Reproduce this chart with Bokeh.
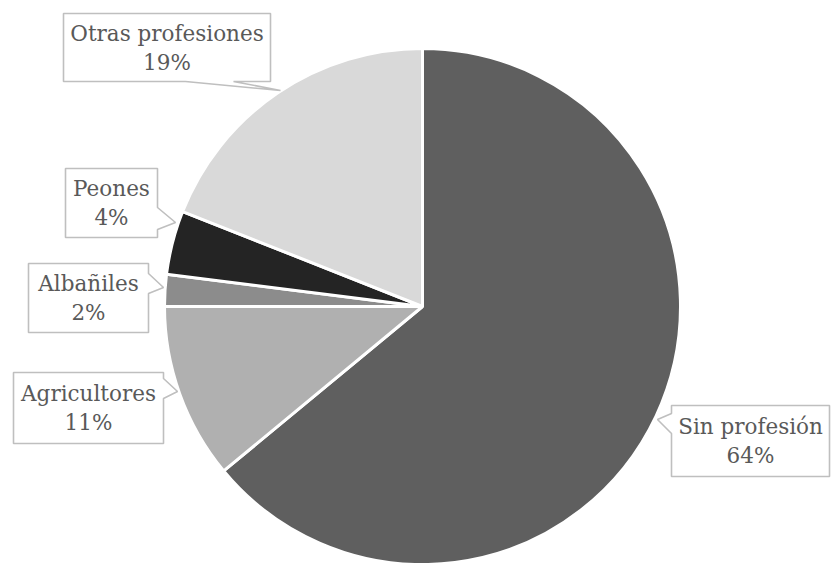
import numpy as np
from bokeh.plotting import figure
from bokeh.models import Range1d, ColumnDataSource
from bokeh.core.properties import value
from bokeh.embed import file_html
from bokeh.resources import INLINE

# ---- data ----
categories = ["Sin profesión", "Agricultores", "Albañiles", "Peones", "Otras profesiones"]
percents = [64, 11, 2, 4, 19]
pct_labels = ["64%", "11%", "2%", "4%", "19%"]
colors = ["#5f5f5f", "#b0b0b0", "#8c8c8c", "#242424", "#d9d9d9"]

# ---- layout (pixel coordinates of the picture) ----
W, H = 831, 563


def yd(y):
    return H - y


CX, CY, R = 422, 306, 258

# box (x0, y0, x1, y1), tail side, tail base (a, b), tail tip (tx, ty)
callouts = [
    ((671, 405, 829, 476), "left", (413, 433), (657, 419)),
    ((13, 372, 163, 443), "right", (378, 398), (177, 391)),
    ((28, 263, 148, 332), "right", (273, 293), (163, 287)),
    ((65, 168, 157, 237), "right", (207, 229), (175, 222)),
    ((63, 13, 270, 81), "bottom", (185, 233), (280, 90)),
]

p = figure(width=W, height=H, output_backend="svg", toolbar_location=None,
           x_range=Range1d(0, W), y_range=Range1d(0, H),
           min_border=0, tools="")
p.axis.visible = False
p.grid.visible = False
p.outline_line_color = None
p.background_fill_color = "white"
p.border_fill_color = "white"

vals = np.array(percents, dtype=float)
frac = vals / vals.sum()
cum = np.concatenate([[0], np.cumsum(frac)])
start = np.pi / 2 - 2 * np.pi * cum[:-1]
end = np.pi / 2 - 2 * np.pi * cum[1:]

src = ColumnDataSource(dict(start=start, end=end, color=colors, cat=categories))
p.wedge(x=CX, y=yd(CY), radius=R, start_angle="start", end_angle="end",
        direction="clock", fill_color="color", line_color="white", line_width=3,
        source=src)

xs, ys, tx, ty1, ty2 = [], [], [], [], []
for (box, side, base, tip) in callouts:
    x0, y0, x1, y1 = box
    a, b = base
    if side == "right":
        pts = [(x0, y0), (x1, y0), (x1, a), tip, (x1, b), (x1, y1), (x0, y1)]
    elif side == "left":
        pts = [(x0, y0), (x1, y0), (x1, y1), (x0, y1), (x0, b), tip, (x0, a)]
    else:
        pts = [(x0, y0), (x1, y0), (x1, y1), (b, y1), tip, (a, y1), (x0, y1)]
    xs.append([q[0] for q in pts])
    ys.append([yd(q[1]) for q in pts])
    cxm = (x0 + x1) / 2
    cym = (y0 + y1) / 2
    tx.append(cxm)
    ty1.append(yd(cym - 14.5))
    ty2.append(yd(cym + 14.5))

p.patches(xs, ys, fill_color="white", line_color="#bfbfbf", line_width=1.6)

tsrc = ColumnDataSource(dict(x=tx, y1=ty1, y2=ty2, cat=categories, pct=pct_labels))
common = dict(text_font=value("DejaVu Serif"),
              text_font_size="21.5px",
              text_color="#595959", text_align="center", text_baseline="middle",
              source=tsrc)
p.text(x="x", y="y1", text="cat", **common)
p.text(x="x", y="y2", text="pct", **common)

open("out.html", "w").write(file_html(p, INLINE))
